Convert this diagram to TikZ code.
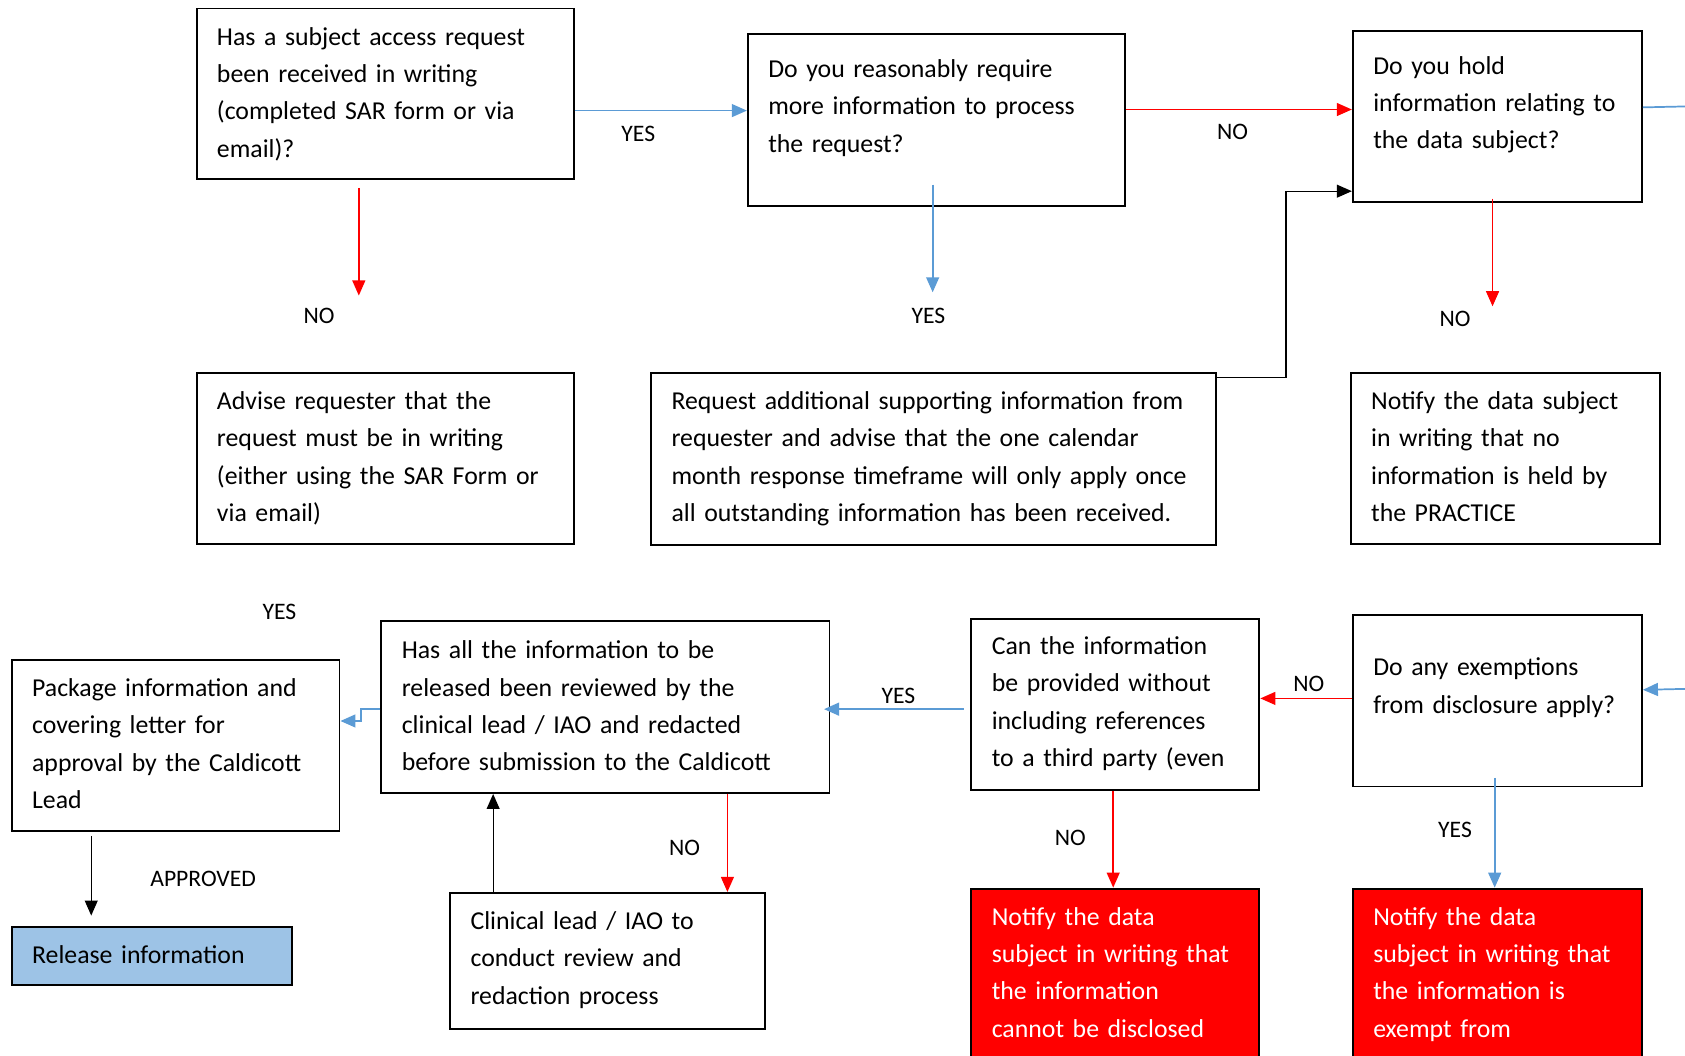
\documentclass[tikz,border=0pt]{standalone}
\usepackage{fontspec}
\setmainfont{Carlito}
\usetikzlibrary{positioning,arrows.meta}

\definecolor{yesblue}{HTML}{5B9BD5}
\definecolor{nored}{HTML}{FF0000}
\definecolor{releaseblue}{HTML}{9DC3E6}

\tikzset{
  qbox/.style n args={3}{draw, line width=0.9pt, anchor=north west,
    inner xsep=9.5pt, inner ysep=0pt, align=left,
    text width=#1, text height=#2, text depth=#3,
    font=\fontsize{12pt}{17.4pt}\selectfont},
  redbox/.style={fill=nored, text=white},
  lbl/.style={inner sep=0pt, font=\fontsize{11pt}{13pt}\selectfont},
  tip/.style={-{Triangle[length=7pt,width=6pt]}},
  yesarrow/.style={tip, draw=yesblue, line width=0.8pt},
  noarrow/.style={tip, draw=nored, line width=0.7pt},
  backarrow/.style={tip, draw=black, line width=0.6pt},
}

\begin{document}
\begin{tikzpicture}[x=0.5pt, y=-0.5pt]
\useasboundingbox (0,0) rectangle (1568,982);
\clip (0,0) rectangle (1568,982);

% top row
\node[qbox={156.5pt}{17pt}{62.5pt}] (sar) at (182,7)
  {Has a subject access request\\ been received in writing\\ (completed SAR form or via\\ email)?};
\node[qbox={156.5pt}{20pt}{60pt}] (more) at (695,31)
  {Do you reasonably require\\ more information to process\\ the request?};
\node[qbox={115.5pt}{20pt}{59.5pt}] (hold) at (1258,28)
  {Do you hold\\ information relating to\\ the data subject?};

% second row
\node[qbox={156.5pt}{17pt}{62.5pt}] (advise) at (182,346)
  {Advise requester that the\\ request must be in writing\\ (either using the SAR Form or\\ via email)};
\node[qbox={244pt}{17pt}{63pt}] (extra) at (605,346)
  {Request additional supporting information from\\ requester and advise that the one calendar\\ month response timeframe will only apply once\\ all outstanding information has been received.};
\node[qbox={125pt}{17pt}{62.5pt}] (noinfo) at (1256,346)
  {Notify the data subject\\ in writing that no\\ information is held by\\ the PRACTICE};

% third row
\node[qbox={133.5pt}{17pt}{62.5pt}] (package) at (10,613)
  {Package information and\\ covering letter for\\ approval by the Caldicott\\ Lead};
\node[qbox={189.5pt}{17.5pt}{62.5pt}] (review) at (354,577)
  {Has all the information to be\\ released been reviewed by the\\ clinical lead / IAO and redacted\\ before submission to the Caldicott};
\node[qbox={115pt}{16.5pt}{63pt}] (third) at (903,575)
  {Can the information\\ be provided without\\ including references\\ to a third party (even};
\node[qbox={115.5pt}{28.5pt}{51.5pt}] (exempt) at (1258,571)
  {Do any exemptions\\ from disclosure apply?};

% bottom row
\node[qbox={111.5pt}{17pt}{10pt}, fill=releaseblue] (release) at (10,862)
  {Release information};
\node[qbox={127.5pt}{17pt}{46.5pt}] (clinical) at (418,830)
  {Clinical lead / IAO to\\ conduct review and\\ redaction process};
\node[qbox={115pt}{17pt}{70pt}, redbox] (nodisc) at (903,826)
  {Notify the data\\ subject in writing that\\ the information\\ cannot be disclosed};
\node[qbox={115.5pt}{17pt}{70pt}, redbox] (isexempt) at (1258,826)
  {Notify the data\\ subject in writing that\\ the information is\\ exempt from};

% loose ends at the right edge
\coordinate (edgehold) at (1570,99);
\coordinate (edgeexempt) at (1570,641);

% connectors
\draw[yesarrow] ([shift={(0,15.5)}]sar.east) -- ([shift={(0,15.5)}]sar.east -| more.west);
\draw[noarrow] ([shift={(0,-10)}]more.east) -- ([shift={(0,-10)}]more.east -| hold.west);
\draw[draw=yesblue, line width=0.8pt] ([shift={(0,-8.5)}]hold.east) -- (edgehold);

\draw[noarrow] ([shift={(-24.5,7)}]sar.south) -- ([shift={(-24.5,-71)}]advise.north);
\draw[yesarrow] ([shift={(-3.5,-21)}]more.south) -- ([shift={(-1,-74)}]extra.north);
\draw[noarrow] ([shift={(-4.5,-4)}]hold.south) -- ([shift={(-12,-61)}]noinfo.north);

\draw[backarrow] ([shift={(0,5)}]extra.north east) -- ++(64,0) |- ([shift={(0,69.5)}]hold.west);

\draw[yesarrow] (edgeexempt) -- ([shift={(0,-10)}]exempt.east);
\draw[noarrow] ([shift={(0,-2)}]exempt.west) -- ([shift={(0,-2)}]exempt.west -| third.east);
\draw[yesarrow] ([shift={(-6,4.5)}]third.west) -- ([shift={(-6,4.5)}]third.west -| review.east);
\draw[yesarrow] ([shift={(0,2)}]review.west) -- ++(-18,0) |- ([shift={(0,-22.5)}]package.east);

\draw[backarrow] ([shift={(-78.5,4)}]package.south) -- ([shift={(-56.5,-10)}]release.north);
\draw[noarrow] ([shift={(113.5,0)}]review.south) -- ([shift={(113.5,0)}]review.south |- clinical.north);
\draw[backarrow] ([shift={(-106.5,0)}]clinical.north) -- ([shift={(-106.5,0)}]clinical.north |- review.south);
\draw[noarrow] ([shift={(-2,0)}]third.south) -- ([shift={(-2,0)}]third.south |- nodisc.north);
\draw[yesarrow] ([shift={(-2.5,-9)}]exempt.south) -- ([shift={(-2.5,0)}]exempt.south |- isexempt.north);

% labels
\node[lbl] (yessar) at (594,125) {YES};
\node[lbl] (nomore) at (1147,123) {NO};
\node[lbl] (nosar) at (297,294) {NO};
\node[lbl] (yesmore) at (864,294) {YES};
\node[lbl] (nohold) at (1354,297) {NO};
\node[lbl] (yesreview) at (260,569) {YES};
\node[lbl] (yesthird) at (836,648) {YES};
\node[lbl] (noexempt) at (1218,636) {NO};
\node[lbl] (approved) at (189,818) {APPROVED};
\node[lbl] (noreview) at (637,789) {NO};
\node[lbl] (nothird) at (996,780) {NO};
\node[lbl] (yesexempt) at (1354,772) {YES};
\end{tikzpicture}
\end{document}
